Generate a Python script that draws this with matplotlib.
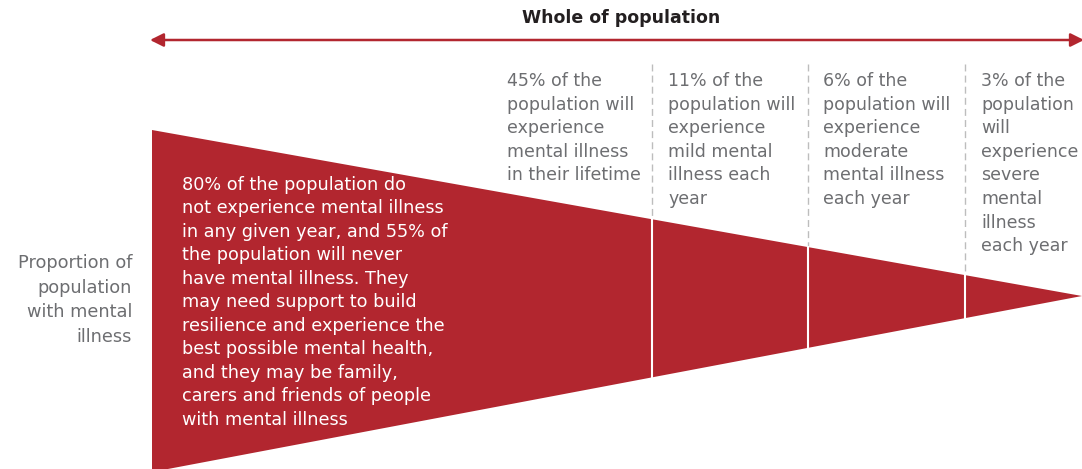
import matplotlib.pyplot as plt
from matplotlib.patches import Polygon

plt.rcParams["font.family"] = ["DejaVu Sans"]

ROJO = "#b2262f"
GRIS = "#6d6e71"

# Datos (en píxeles de la figura original, eje y hacia abajo)
titulo = "Whole of population"
etiqueta_eje = "Proportion of\npopulation\nwith mental\nillness"
texto_principal = (
    "80% of the population do\n"
    "not experience mental illness\n"
    "in any given year, and 55% of\n"
    "the population will never\n"
    "have mental illness. They\n"
    "may need support to build\n"
    "resilience and experience the\n"
    "best possible mental health,\n"
    "and they may be family,\n"
    "carers and friends of people\n"
    "with mental illness"
)
etiquetas = [
    "45% of the\npopulation will\nexperience\nmental illness\nin their lifetime",
    "11% of the\npopulation will\nexperience\nmild mental\nillness each\nyear",
    "6% of the\npopulation will\nexperience\nmoderate\nmental illness\neach year",
    "3% of the\npopulation\nwill\nexperience\nsevere\nmental\nillness\neach year",
]
x_etiquetas = [507, 668, 823, 981]
x_divisiones = [652, 808, 965]

x_ini, x_fin = 152, 1082
y_sup, y_inf, y_punta = 130, 472, 296

fig = plt.figure(figsize=(10.82, 4.69), dpi=100)
ax = fig.add_axes([0, 0, 1, 1])
ax.set_xlim(0, 1082)
ax.set_ylim(469, 0)
ax.axis("off")

# Triángulo
tri = Polygon([(x_ini, y_sup), (x_fin, y_punta), (x_ini, y_inf)],
              closed=True, facecolor=ROJO, edgecolor="none")
ax.add_patch(tri)


def borde_sup(x):
    return y_sup + (x - x_ini) / (x_fin - x_ini) * (y_punta - y_sup)


def borde_inf(x):
    return y_inf + (x - x_ini) / (x_fin - x_ini) * (y_punta - y_inf)


for xd in x_divisiones:
    ys = borde_sup(xd)
    ax.plot([xd, xd], [64, ys], color="#bdbdbd", lw=1, ls=(0, (5, 3)))
    ax.plot([xd, xd], [ys, borde_inf(xd)], color="white", lw=1.5)

# Flecha superior
ax.annotate("", xy=(x_ini - 2, 40), xytext=(x_fin + 2, 40),
            arrowprops=dict(arrowstyle="<|-|>", color=ROJO, lw=1.8,
                            mutation_scale=20, shrinkA=0, shrinkB=0))
ax.text(621, 18, titulo, ha="center", va="center", fontsize=12.5,
        fontweight="bold", color="#231f20")

# Textos
ax.text(132, 300, etiqueta_eje, ha="right", va="center", fontsize=12.8,
        color=GRIS, linespacing=1.48)
ax.text(182, 176, texto_principal, ha="left", va="top", fontsize=12.7,
        color="white", linespacing=1.39)
for xe, et in zip(x_etiquetas, etiquetas):
    ax.text(xe, 72, et, ha="left", va="top", fontsize=12.5, color=GRIS,
            linespacing=1.4)

fig.savefig("out.png", dpi=100)
